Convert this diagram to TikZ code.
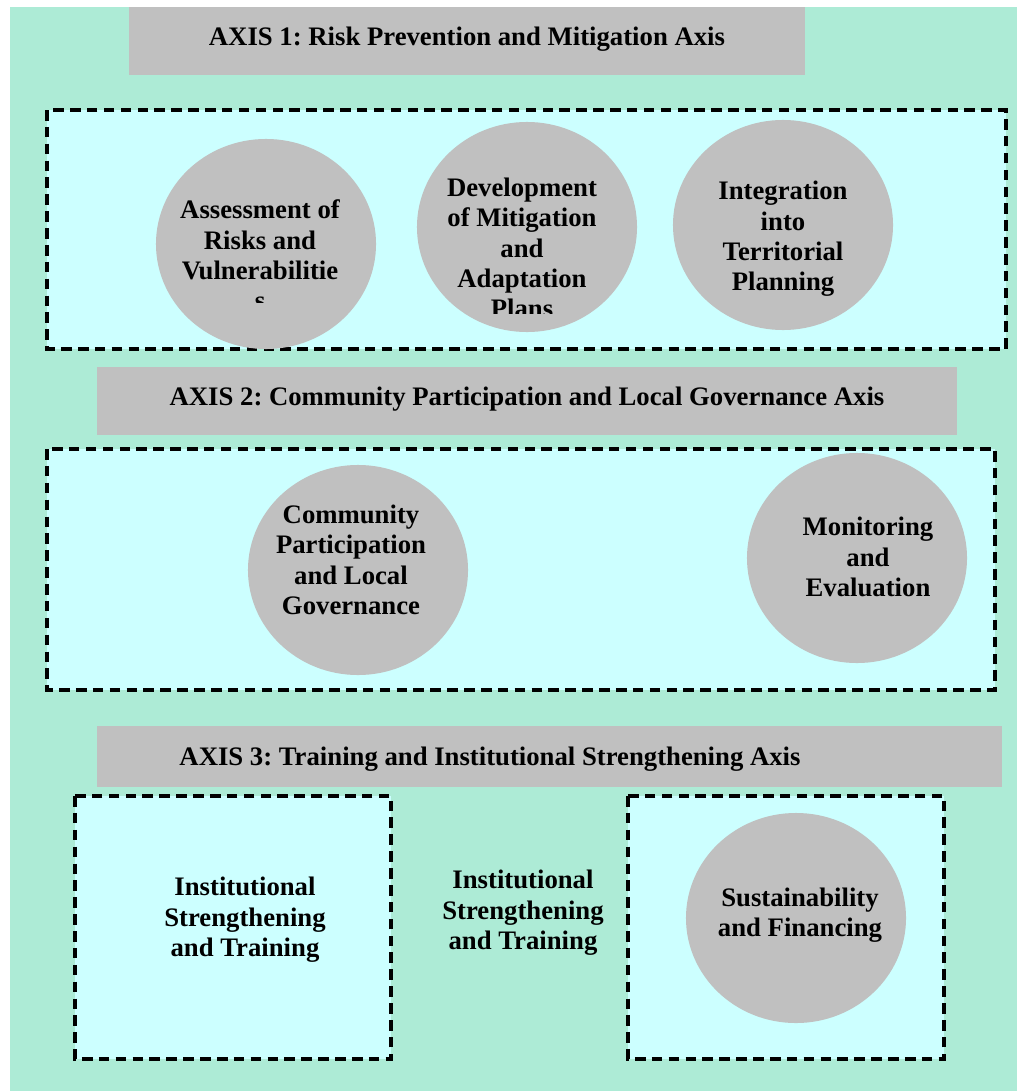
\documentclass[tikz,border=0pt]{standalone}
\usepackage{fontspec}
\setmainfont{Liberation Serif}
\usetikzlibrary{shapes.geometric}
\frenchspacing

\definecolor{pagegreen}{RGB}{173,235,214}
\definecolor{panelcyan}{RGB}{204,255,255}
\definecolor{bargray}{RGB}{192,192,192}

\begin{document}
\begin{tikzpicture}
  [x=0.025cm,y=-0.025cm,
   every node/.style={font=\fontsize{19}{21.6}\selectfont\bfseries,align=center,inner sep=0pt},
   blob/.style={ellipse,fill=bargray,minimum width=5.5cm,minimum height=5.25cm},
   panel/.style={fill=panelcyan,draw=black,line width=2.6pt,dash pattern=on 7.5pt off 4.5pt}]
  \useasboundingbox (0,0) rectangle (1017,1091);
  \fill[white] (0,0) rectangle (1017,1091);
  \fill[pagegreen] (10,7) rectangle (1020,1095);
  % title bars
  \fill[bargray] (129,7) rectangle (805,75);
  \fill[bargray] (97,367) rectangle (957,435);
  \fill[bargray] (97,726) rectangle (1002,787);
  \node[anchor=base] (axis1) at (467,46) {AXIS 1: Risk Prevention and Mitigation Axis};
  \node[anchor=base] (axis2) at (527,405) {AXIS 2: Community Participation and Local Governance Axis};
  \node[anchor=base] (axis3) at (490,765) {AXIS 3: Training and Institutional Strengthening Axis};
  % dashed panels
  \draw[panel] (47,110) rectangle (1006,349);
  \draw[panel] (47,449) rectangle (995,690);
  \draw[panel] (75,796) rectangle (391,1059);
  \draw[panel] (628,796) rectangle (944,1059);
  % grey discs
  \foreach \name/\x/\y in {risk/266/244,plans/527/227,terr/783/225,comm/358/570,monit/857/558,fin/796/918}
    \node[blob] (\name) at (\x,\y) {};
  \begin{scope}
    \clip (140,150) rectangle (390,302);
    \node (risktext) at (260,255) {Assessment of\\Risks and\\Vulnerabilitie\\s};
  \end{scope}
  \begin{scope}
    \clip (400,130) rectangle (650,313);
    \node (planstext) at (522,248) {Development\\of Mitigation\\and\\Adaptation\\Plans};
  \end{scope}
  \node (terrtext) at (783,239) {Integration\\into\\Territorial\\Planning};
  \node (commtext) at (351,560) {Community\\Participation\\and Local\\Governance};
  \node (monittext) at (868,557) {Monitoring\\and\\Evaluation};
  \node (insttext) at (245,920) {Institutional\\Strengthening\\and Training};
  \node (insttext2) at (523,913) {Institutional\\Strengthening\\and Training};
  \node (fintext) at (800,915) {Sustainability\\and Financing};
\end{tikzpicture}
\end{document}
